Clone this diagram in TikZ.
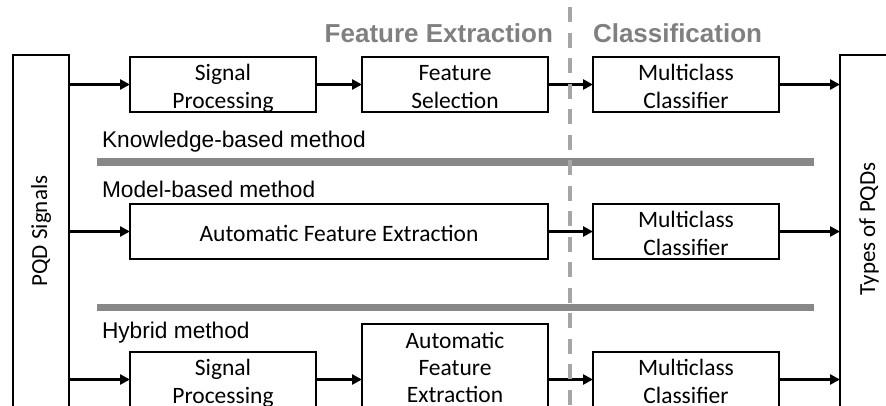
\documentclass[tikz,border=0pt]{standalone}
\usepackage{fontspec}
\setmainfont{Carlito}
\newfontfamily\arialfont{Liberation Sans}
\usetikzlibrary{arrows.meta}

\definecolor{bargray}{RGB}{136,136,136}
\definecolor{dashgray}{RGB}{166,166,166}
\definecolor{headgray}{RGB}{128,128,128}

% struts that fix the first baseline and the last depth of box texts
\newcommand\upstrut{\rule{0pt}{24pt}}
\newcommand\dnstrut{\rule[-4pt]{0pt}{4pt}}

\tikzset{
  every node/.style={inner sep=0pt, outer sep=0pt},
  stagebox/.style={draw=black, line width=1.8pt, fill=white, align=center,
    font=\fontsize{23.5}{27.3}\selectfont},
  sidebox/.style={draw=black, line width=1.8pt, fill=white},
  sidelabel/.style={rotate=90, font=\fontsize{23}{27}\selectfont},
  flow/.style={line width=3.4pt, -{Triangle[length=10pt,width=10pt]}},
  divider/.style={draw=bargray, line width=7.5pt},
  phaseline/.style={draw=dashgray, line width=3.5pt, dash pattern=on 15pt off 10.5pt},
  methodlabel/.style={anchor=base west, font=\arialfont\fontsize{22.7}{26}\selectfont},
  phaselabel/.style={anchor=base, text=headgray, font=\arialfont\bfseries\fontsize{26}{30}\selectfont}
}

\begin{document}
\begin{tikzpicture}[x=1pt, y=-1pt]
  \useasboundingbox (0,0) rectangle (886,405);
  \clip (0,0) rectangle (886,405);

  % input and output columns
  \node[sidebox, minimum width=56pt, minimum height=360pt] (src) at (41,235) {};
  \node[sidelabel] (srclabel) at (41,231) {PQD Signals};
  \node[sidebox, minimum width=60pt, minimum height=360pt] (dst) at (870,235) {};
  \node[sidelabel] (dstlabel) at (869,229) {Types of PQDs};

  % phase headings
  \node[phaselabel, anchor=base east] (hfe) at (553,42) {Feature Extraction};
  \node[phaselabel, anchor=base west] (hcl) at (593,42) {Classification};

  % separators between the three methods
  \coordinate (bar1a) at (97,162);
  \coordinate (bar1b) at (814,162);
  \coordinate (bar2a) at (97,307.5);
  \coordinate (bar2b) at (814,307.5);
  \draw[divider] (bar1a) -- (bar1b);
  \draw[divider] (bar2a) -- (bar2b);

  % method captions
  \node[methodlabel] (mkb) at (102,147) {Knowledge-based method};
  \node[methodlabel] (mmb) at (102,197) {Model-based method};
  \node[methodlabel] (mhy) at (102,338) {Hybrid method};

  % knowledge-based row
  \node[stagebox, minimum width=186pt, minimum height=55pt] (sp1) at (223,84.5)
    {\upstrut Signal\\Processing\dnstrut};
  \node[stagebox, minimum width=186pt, minimum height=55pt] (fs1) at (455,84.5)
    {\upstrut Feature\\Selection\dnstrut};
  \node[stagebox, minimum width=186pt, minimum height=55pt] (mc1) at (686,84.5)
    {\upstrut Multiclass\\Classifier\dnstrut};

  % model-based row
  \node[stagebox, minimum width=418pt, minimum height=55pt] (afe2) at (339,231.5)
    {\upstrut Automatic Feature Extraction\dnstrut};
  \node[stagebox, minimum width=186pt, minimum height=55pt] (mc2) at (686,231.5)
    {\upstrut Multiclass\\Classifier\dnstrut};

  % hybrid row
  \node[stagebox, minimum width=186pt, minimum height=55pt] (sp3) at (223,379.5)
    {\upstrut Signal\\Processing\dnstrut};
  \node[stagebox, minimum width=186pt, minimum height=83pt] (afe3) at (455,365.5)
    {\upstrut Automatic\\Feature\\Extraction\dnstrut};
  \node[stagebox, minimum width=186pt, minimum height=55pt] (mc3) at (686,379.5)
    {\upstrut Multiclass\\Classifier\dnstrut};

  % connectors
  \draw[flow] (src.east |- sp1) -- (sp1);
  \draw[flow] (sp1) -- (fs1);
  \draw[flow] (fs1) -- (mc1);
  \draw[flow] (mc1) -- (dst.west |- mc1);

  \draw[flow] (src.east |- afe2) -- (afe2);
  \draw[flow] (afe2) -- (mc2);
  \draw[flow] (mc2) -- (dst.west |- mc2);

  \draw[flow] (src.east |- sp3) -- (sp3);
  \draw[flow] (sp3) -- (afe3.west |- sp3);
  \draw[flow] (afe3.east |- mc3) -- (mc3);
  \draw[flow] (mc3) -- (dst.west |- mc3);

  % boundary between feature extraction and classification
  \coordinate (phtop) at (570,7);
  \coordinate (phbot) at (570,420);
  \draw[phaseline] (phtop) -- (phbot);
\end{tikzpicture}
\end{document}
